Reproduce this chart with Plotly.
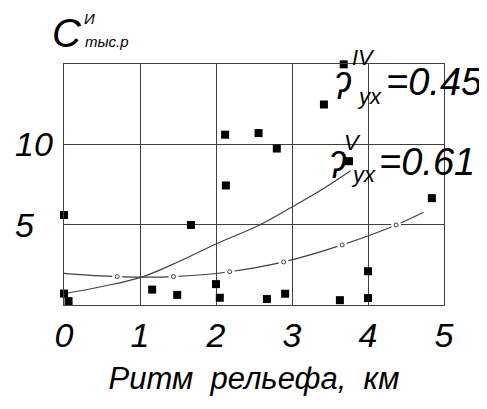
import plotly.graph_objects as go

# scatter points (km, thousand rub.)
pts_x = [3.68, 3.42, 2.12, 2.56, 2.80, 3.75, 2.13, 4.84, 0.0, 1.67, 4.0,
         1.16, 1.49, 2.0, 2.05, 0.0, 0.06, 2.67, 2.91, 3.63, 4.0]
pts_y = [14.98, 12.48, 10.6, 10.7, 9.74, 8.95, 7.44, 6.65, 5.6, 4.98, 2.1,
         0.96, 0.63, 1.3, 0.45, 0.71, 0.24, 0.37, 0.7, 0.3, 0.43]

# curve IV (solid)
c4_x = [0.0, 0.5, 1.0, 1.5, 2.0, 2.56, 3.0, 3.4, 3.77]
c4_y = [0.7, 1.15, 1.7, 2.68, 3.8, 4.95, 6.1, 7.2, 8.35]

# curve V (with small circles)
c5_x = [0.0, 0.7, 1.44, 2.18, 2.89, 3.66, 4.37, 4.73]
c5_y = [1.97, 1.77, 1.77, 2.07, 2.68, 3.74, 4.98, 5.77]
c5_mark_x = [0.7, 1.44, 2.18, 2.89, 3.66, 4.37]
c5_mark_y = [1.77, 1.77, 2.07, 2.68, 3.74, 4.98]

x_ticks = [0, 1, 2, 3, 4, 5]
x_ticktext = ["0", "1", "2", "3", "4", "5"]
y_ticks = [5, 10]
y_ticktext = ["5", "10"]

FONT = "Liberation Sans, Arial"
LINE = "#404040"

# page body has an 8px margin; plot area on screen: x 64..444, y 64..310
W, H = 479, 393
L, T = 56, 56
PW, PH = 380, 246

fig = go.Figure()
fig.add_trace(go.Scatter(x=c4_x, y=c4_y, mode="lines", line=dict(color=LINE, width=1.2, shape="spline"),
                         hoverinfo="skip"))
fig.add_trace(go.Scatter(x=c5_x, y=c5_y, mode="lines", line=dict(color=LINE, width=1.2, shape="spline"),
                         hoverinfo="skip"))
fig.add_trace(go.Scatter(x=c5_mark_x, y=c5_mark_y, mode="markers",
                         marker=dict(symbol="circle", size=10, color="white", line=dict(width=0)),
                         hoverinfo="skip"))
fig.add_trace(go.Scatter(x=c5_mark_x, y=c5_mark_y, mode="markers",
                         marker=dict(symbol="circle-open", size=4, color=LINE, line=dict(width=1)),
                         hoverinfo="skip"))
fig.add_trace(go.Scatter(x=pts_x, y=pts_y, mode="markers",
                         marker=dict(symbol="square", size=8, color="black"), cliponaxis=False))

fig.update_layout(
    width=W, height=H,
    margin=dict(l=L, r=W - L - PW, t=T, b=H - T - PH),
    paper_bgcolor="white", plot_bgcolor="white",
    showlegend=False,
    font=dict(family=FONT, color="black"),
)
fig.update_xaxes(range=[0, 5], tickvals=x_ticks, ticktext=x_ticktext,
                 showgrid=True, gridcolor=LINE, gridwidth=1, zeroline=False,
                 showline=True, linecolor=LINE, linewidth=1, mirror=True, ticks="",
                 tickfont=dict(size=34, family=FONT, style="italic"),
                 title=dict(text="Ритм\u00a0 рельефа,\u00a0 км", font=dict(size=31, family=FONT, style="italic"),
                            standoff=14))
fig.update_yaxes(range=[0, 15], tickvals=y_ticks, ticktext=y_ticktext, showticklabels=False,
                 showgrid=True, gridcolor=LINE, gridwidth=1, zeroline=False,
                 showline=True, linecolor=LINE, linewidth=1, mirror=True, ticks="")

# y tick labels, left aligned as in the original
for v, t in zip(y_ticks, y_ticktext):
    fig.add_annotation(text=t, xref="paper", yref="y", x=(13 - 64) / PW, y=v,
                       xanchor="left", yanchor="middle", showarrow=False,
                       font=dict(size=34, family=FONT, style="italic", color="black"))

ann = [
    dict(text="C", x=67, y=32, size=40),
    dict(text="И", x=89, y=18, size=15),
    dict(text="тыс.р", x=107, y=41, size=15),
    dict(text="IV", x=363, y=57, size=22),
    dict(text="ʔ", x=342, y=87, size=36),
    dict(text="yx", x=369, y=97, size=22),
    dict(text="=0.45", x=434, y=82, size=38),
    dict(text="V", x=352, y=144, size=22),
    dict(text="ʔ", x=337, y=168, size=36),
    dict(text="yx", x=363, y=177, size=22),
    dict(text="=0.61", x=427, y=164, size=38),
]
for a in ann:
    fig.add_annotation(text=a["text"], xref="paper", yref="paper",
                       x=(a["x"] - 64) / PW, y=(310 - a["y"]) / PH,
                       xanchor="center", yanchor="middle", showarrow=False,
                       font=dict(size=a["size"], family=FONT, style="italic", color="black"))

fig.write_html("out.html")
